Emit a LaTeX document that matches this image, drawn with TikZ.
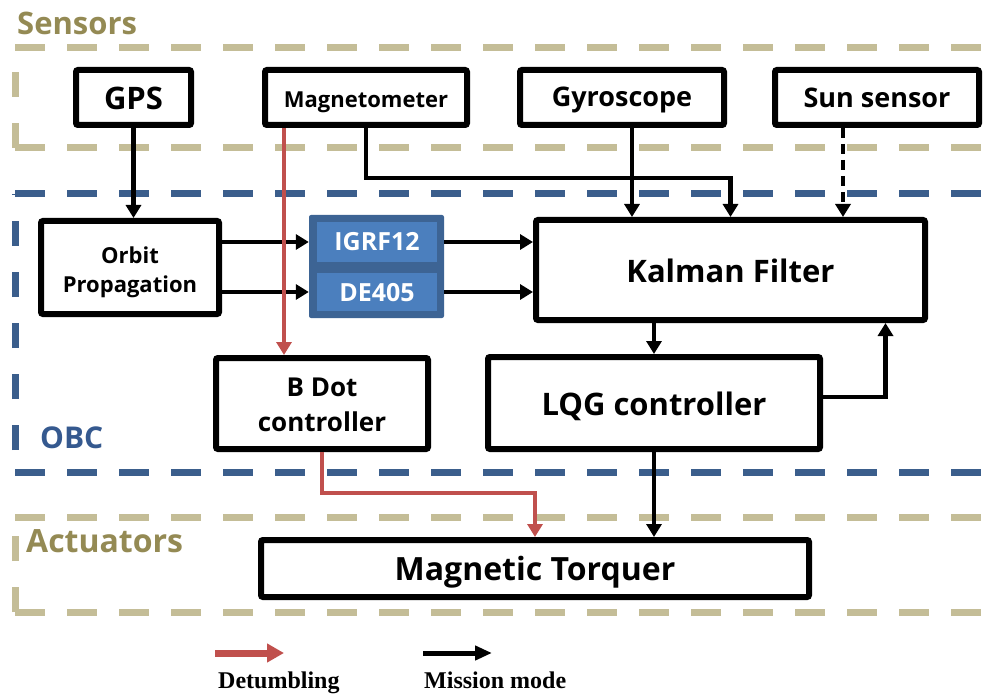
\documentclass[tikz,border=0pt]{standalone}
\usepackage{fontspec}
\setmainfont{Open Sans}
\newfontfamily\legendfont{Liberation Serif}
\usetikzlibrary{arrows.meta,calc}

\definecolor{frametan}{HTML}{C4BD97}
\definecolor{tantext}{HTML}{948A54}
\definecolor{obcblue}{HTML}{3B5E8C}
\definecolor{obctext}{HTML}{35598F}
\definecolor{detred}{HTML}{C0504D}
\definecolor{ephouter}{HTML}{3D6494}
\definecolor{ephinner}{HTML}{4B7FBE}

\newcommand{\fsz}[1]{\fontsize{#1}{#1}\selectfont}

\begin{document}
\begin{tikzpicture}[x=1pt,y=-1pt,
  frame/.style={line width=7pt, dash pattern=on 30pt off 22pt},
  blk/.style={draw=black, line width=6pt, rounded corners=2pt, fill=white,
    inner sep=0pt, outer sep=3pt, align=center},
  % single-line labels: fixed box height above the baseline, no depth
  capline/.style={text height=#1, text depth=0pt},
  conn/.style={line width=4.5pt, -{Triangle[length=13pt,width=15pt]}},
  redconn/.style={conn, draw=detred, -{Triangle[length=13pt,width=15pt,fill=detred]}},
  eph/.style={fill=ephinner, inner sep=0pt, text=white, font=\bfseries\fsz{25}},
  grouplabel/.style={anchor=base west, inner sep=0pt, font=\bfseries\fsz{31}},
  legendtext/.style={anchor=base west, inner sep=0pt, font=\legendfont\bfseries\fsz{24}}
]
\useasboundingbox[fill=white] (0,0) rectangle (988,695);

% ---- group frames (open to the right) ----
\draw[frame, draw=frametan] (15,48) -- (1000,48);
\draw[frame, draw=frametan] (15,148) -- (1000,148);
\draw[frame, draw=frametan, dash pattern=on 25pt off 26pt] (15,148) -- (15,48);

\draw[frame, draw=obcblue] (15,194) -- (1000,194);
\draw[frame, draw=obcblue] (15,472) -- (1000,472);
\draw[frame, draw=obcblue, dash pattern=on 25pt off 26pt] (15,450) -- (15,194);

\draw[frame, draw=frametan] (15,517) -- (1000,517);
\draw[frame, draw=frametan] (15,612) -- (1000,612);
\draw[frame, draw=frametan, dash pattern=on 25pt off 26pt] (15,612) -- (15,517);

% ---- group labels ----
\node[grouplabel, text=tantext] (lsens) at (17,35) {Sensors};
\node[grouplabel, text=obctext, font=\bfseries\fsz{30}] (lobc) at (40,448) {OBC};
\node[grouplabel, text=tantext, font=\bfseries\fsz{32}] (lact) at (26,552) {Actuators};

% ---- sensors ----
\node[blk, capline=25pt, minimum width=115pt, minimum height=55pt, font=\bfseries\fsz{31}] (gps) at (133.5,97.5) {GPS};
\node[blk, capline=21pt, minimum width=202pt, minimum height=55pt, font=\bfseries\fsz{22}] (mag) at (366,97.5) {Magnetometer};
\node[blk, capline=19pt, minimum width=204pt, minimum height=55pt, font=\bfseries\fsz{27}] (gyro) at (622,97.5) {Gyroscope};
\node[blk, capline=20pt, minimum width=204pt, minimum height=55pt, font=\bfseries\fsz{27}] (sun) at (877,97.5) {Sun sensor};

% ---- on-board computer ----
\node[blk, minimum width=178pt, minimum height=93pt, font=\bfseries\fsz{22}] (orbit) at (130,267.5)
  {\rule{0pt}{27pt}Orbit\\[7pt]Propagation};
\node[fill=ephouter, rounded corners=2pt, minimum width=135pt, minimum height=103pt, inner sep=0pt] (ephem) at (376.5,266.5) {};
\node[eph, capline=18pt, minimum width=120pt, minimum height=40pt] (igrf) at (377,242) {IGRF12};
\node[eph, capline=18pt, minimum width=120pt, minimum height=38pt] (de) at (377,292) {DE405};

\node[blk, capline=24pt, minimum width=389pt, minimum height=100pt, font=\bfseries\fsz{31}] (kf) at (730.5,270) {Kalman Filter};
\node[blk, capline=24pt, minimum width=332pt, minimum height=92pt, font=\bfseries\fsz{31}] (lqg) at (654,403) {LQG controller};
\node[blk, minimum width=212pt, minimum height=91pt, font=\bfseries\fsz{26}] (bdot) at (322,403.5)
  {\rule{0pt}{22pt}B Dot\\[9pt]controller};

% ---- actuator ----
\node[blk, capline=23pt, minimum width=548pt, minimum height=57pt, font=\bfseries\fsz{32}] (mt) at (535,568.5) {Magnetic Torquer};

% ---- mission-mode connectors ----
\draw[conn] (gps.south) -- (gps.south |- orbit.north);
\draw[conn] (orbit.east |- igrf) -- (ephem.west |- igrf);
\draw[conn] (orbit.east |- de) -- (ephem.west |- de);
\draw[conn] (ephem.east |- igrf) -- (kf.west |- igrf);
\draw[conn] (ephem.east |- de) -- (kf.west |- de);
\draw[conn] (mag.south) -- ++(0,50) -| (kf.north);
\draw[conn] ([xshift=10pt]gyro.south) -- ([xshift=10pt]gyro.south |- kf.north);
\draw[conn, dash pattern=on 10pt off 6pt] ([xshift=-34pt]sun.south) -- ([xshift=-34pt]sun.south |- kf.north);
\draw[conn] (kf.south -| lqg.north) -- (lqg.north);
\draw[conn] ([yshift=6pt]lqg.east) -| ([xshift=155pt]kf.south);
\draw[conn] (lqg.south) -- (lqg.south |- mt.north);

% ---- detumbling connectors ----
\draw[redconn] ([xshift=-82pt]mag.south) -- ([xshift=-82pt]mag.south |- bdot.north);
\draw[redconn] (bdot.south) -- ++(0,41) -| (mt.north);

% ---- legend ----
\coordinate (lr0) at (215,653);
\coordinate (lr1) at (284,653);
\coordinate (lb0) at (423,653);
\coordinate (lb1) at (492,653);
\draw[line width=7pt, draw=detred, -{Triangle[length=17pt,width=18pt,fill=detred]}] (lr0) -- (lr1);
\draw[line width=5pt, -{Triangle[length=17pt,width=14pt]}] (lb0) -- (lb1);
\node[legendtext] (ldet) at (218,688) {Detumbling};
\node[legendtext] (lmis) at (424,688) {Mission mode};
\end{tikzpicture}
\end{document}
